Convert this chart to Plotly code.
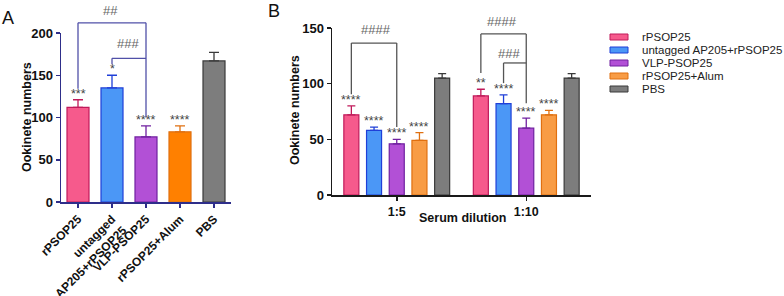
import plotly.graph_objects as go

W, H = 784, 296
FONT = "Liberation Sans, Arial, sans-serif"

# ---------------- data ----------------
groups = ["rPSOP25", "untagged AP205+rPSOP25", "VLP-PSOP25", "rPSOP25+Alum", "PBS"]
a_ticklabels = ["rPSOP25", "untagged<br>AP205+rPSOP25", "VLP-PSOP25", "rPSOP25+Alum", "PBS"]
a_values = [112, 135, 77, 83, 167]
a_errors = [9, 15, 13, 7, 10]
a_stars = ["***", "*", "****", "****", ""]

dilutions = ["1:5", "1:10"]
b_values = {
    "rPSOP25": [72, 89],
    "untagged AP205+rPSOP25": [58, 82],
    "VLP-PSOP25": [46, 60],
    "rPSOP25+Alum": [49, 72],
    "PBS": [105, 105],
}
b_errors = {
    "rPSOP25": [8, 6],
    "untagged AP205+rPSOP25": [3, 8],
    "VLP-PSOP25": [4, 9],
    "rPSOP25+Alum": [7, 4],
    "PBS": [4, 4],
}
b_stars = {
    "rPSOP25": ["****", "**"],
    "untagged AP205+rPSOP25": ["****", "****"],
    "VLP-PSOP25": ["****", "****"],
    "rPSOP25+Alum": ["****", "****"],
    "PBS": ["", ""],
}

# ---------------- styles ----------------
fill_a = ["#f65a8c", "#4b97f6", "#b250d6", "#ff8000", "#7d7d7d"]
fill_b = ["#f65a8c", "#4b97f6", "#b250d6", "#f89c45", "#7d7d7d"]
edge = ["#c01a5a", "#1f3fd8", "#7020a0", "#e07010", "#3a3a3a"]
A_AX = "#2e2e8a"
B_AX = "#1a1a1a"

BW_B = 0.116   # bar width in panel B (category units)
STEP_B = 0.1753  # bar spacing in panel B

fig = go.Figure()

# Panel A bars
for i, g in enumerate(groups):
    fig.add_trace(go.Bar(
        x=[a_ticklabels[i]], y=[a_values[i]], width=0.647,
        marker=dict(color=fill_a[i], line=dict(color=edge[i], width=1.2)),
        error_y=dict(type="data", symmetric=False, array=[a_errors[i]], arrayminus=[0],
                     color=edge[i], thickness=1.3, width=5),
        xaxis="x", yaxis="y", showlegend=False, name=g, hoverinfo="skip",
    ))

# Panel B bars
for i, g in enumerate(groups):
    fig.add_trace(go.Bar(
        x=dilutions, y=b_values[g], width=BW_B, offset=(i - 2) * STEP_B - BW_B / 2,
        marker=dict(color=fill_b[i], line=dict(color=edge[i], width=1.2)),
        error_y=dict(type="data", symmetric=False, array=b_errors[g], arrayminus=[0, 0],
                     color=edge[i], thickness=1.3, width=4),
        xaxis="x2", yaxis="y2", showlegend=False, name=g, hoverinfo="skip",
    ))

ann = []
shapes = []
starfont = dict(family=FONT, size=12.5, color="#444")

# stars A
for i in range(5):
    if a_stars[i]:
        ann.append(dict(x=i, y=a_values[i] + a_errors[i], xref="x", yref="y", text=a_stars[i],
                        showarrow=False, xanchor="center", yanchor="bottom", yshift=-3, font=starfont))
# stars B
for i, g in enumerate(groups):
    for j in range(2):
        if b_stars[g][j]:
            ann.append(dict(x=j + (i - 2) * STEP_B, y=b_values[g][j] + b_errors[g][j], xref="x2", yref="y2",
                            text=b_stars[g][j], showarrow=False, xanchor="center", yanchor="bottom",
                            yshift=-3, font=starfont))

# brackets helpers
def bracket(xref, ymax, xl, xr, ybl, ybr, ytop, color):
    yref = xref.replace("x", "y") + " domain"
    for x0, y0, x1, y1 in [(xl, ybl, xl, ytop), (xl, ytop, xr, ytop), (xr, ytop, xr, ybr)]:
        shapes.append(dict(type="line", xref=xref, yref=yref, x0=x0, x1=x1,
                           y0=y0 / ymax, y1=y1 / ymax, line=dict(color=color, width=1.3)))

# panel A significance
bracket("x", 200, 0, 2, 134, 100, 212, "#5050a8")
bracket("x", 200, 1, 2, 163, 170, 170, "#5050a8")
hashfont = dict(family=FONT, size=13, color="#666")
ann.append(dict(x=0.97, y=227 / 200, xref="x", yref="y domain", text="##", showarrow=False,
                xanchor="center", yanchor="middle", font=hashfont))
ann.append(dict(x=1.47, y=188 / 200, xref="x", yref="y domain", text="###", showarrow=False,
                xanchor="center", yanchor="middle", font=hashfont))

# panel B significance
bracket("x2", 150, -2 * STEP_B, 0, 90.5, 61, 136.5, "#555")
bracket("x2", 150, 1 - 2 * STEP_B, 1, 109.5, 82.5, 144.7, "#555")
bracket("x2", 150, 1 - STEP_B, 1, 100.5, 118.6, 118.6, "#555")
ann.append(dict(x=-0.16, y=149 / 150, xref="x2", yref="y2 domain", text="####", showarrow=False,
                xanchor="center", yanchor="middle", font=hashfont))
ann.append(dict(x=0.81, y=155.4 / 150, xref="x2", yref="y2 domain", text="####", showarrow=False,
                xanchor="center", yanchor="middle", font=hashfont))
ann.append(dict(x=0.87, y=126.7 / 150, xref="x2", yref="y2 domain", text="###", showarrow=False,
                xanchor="center", yanchor="middle", font=hashfont))

# panel letters and axis titles
ann.append(dict(x=8 / W, y=1 - 18 / H, xref="paper", yref="paper", text="A", showarrow=False,
                xanchor="center", yanchor="middle", font=dict(family=FONT, size=18, color="#111")))
ann.append(dict(x=274 / W, y=1 - 11 / H, xref="paper", yref="paper", text="B", showarrow=False,
                xanchor="center", yanchor="middle", font=dict(family=FONT, size=18, color="#111")))
titlefont = dict(family=FONT, size=12.5, color="#111")
ann.append(dict(x=27 / W, y=1 - 117 / H, xref="paper", yref="paper", text="<b>Ookinete numbers</b>",
                textangle=-90, showarrow=False, xanchor="center", yanchor="middle", font=titlefont))
ann.append(dict(x=295 / W, y=1 - 110 / H, xref="paper", yref="paper", text="<b>Ookinete numbers</b>",
                textangle=-90, showarrow=False, xanchor="center", yanchor="middle", font=titlefont))
ann.append(dict(x=463 / W, y=1 - 218 / H, xref="paper", yref="paper", text="<b>Serum dilution</b>",
                showarrow=False, xanchor="center", yanchor="middle", font=titlefont))

# custom legend
for i, g in enumerate(groups):
    yc = 37 + 13 * i
    shapes.append(dict(type="rect", xref="paper", yref="paper", x0=610 / W, x1=628 / W,
                       y0=1 - (yc - 3) / H, y1=1 - (yc + 3) / H,
                       fillcolor=fill_b[i], line=dict(color=edge[i], width=1)))
    ann.append(dict(x=640 / W, y=1 - yc / H, xref="paper", yref="paper", text=g, showarrow=False,
                    xanchor="left", yanchor="middle", font=dict(family=FONT, size=11.5, color="#222")))

tickY = dict(family=FONT, size=13, color="#111", weight="bold")
fig.update_layout(
    width=W, height=H, margin=dict(l=0, r=0, t=0, b=0, autoexpand=False),
    paper_bgcolor="white", plot_bgcolor="white",
    barmode="overlay", showlegend=False, hovermode=False,
    xaxis=dict(domain=[61 / W, 231 / W], anchor="y", range=[-0.5, 4.5], showline=True, automargin=False,
               linecolor=A_AX, linewidth=1.5, ticks="outside", ticklen=4, tickcolor=A_AX, tickwidth=1.5,
               tickangle=-45, tickfont=dict(family=FONT, size=12, color="#111", weight="bold"),
               categoryorder="array", categoryarray=a_ticklabels, showgrid=False, zeroline=False),
    yaxis=dict(domain=[1 - 202 / H, 1 - 33 / H], anchor="x", range=[0, 200], showline=True, automargin=False,
               linecolor=A_AX, linewidth=1.5, ticks="outside", ticklen=4, tickcolor=A_AX, tickwidth=1.5,
               tickvals=[0, 50, 100, 150, 200], tickfont=tickY, showgrid=False, zeroline=False),
    xaxis2=dict(domain=[332 / W, 591 / W], anchor="y2", range=[-0.5, 1.5], showline=True, automargin=False,
                linecolor=B_AX, linewidth=1.5, ticks="outside", ticklen=4, tickcolor=B_AX, tickwidth=1.5,
                tickfont=dict(family=FONT, size=12.5, color="#111", weight="bold"),
                categoryorder="array", categoryarray=dilutions, showgrid=False, zeroline=False),
    yaxis2=dict(domain=[1 - 195 / H, 1 - 28 / H], anchor="x2", range=[0, 150], showline=True, automargin=False,
                linecolor=B_AX, linewidth=1.5, ticks="outside", ticklen=4, tickcolor=B_AX, tickwidth=1.5,
                tickvals=[0, 50, 100, 150], tickfont=tickY, showgrid=False, zeroline=False),
    annotations=ann, shapes=shapes,
)

fig.write_html("out.html", config={"displayModeBar": False, "staticPlot": True},
               post_script="document.body.style.margin='0';document.body.style.overflow='hidden';")
